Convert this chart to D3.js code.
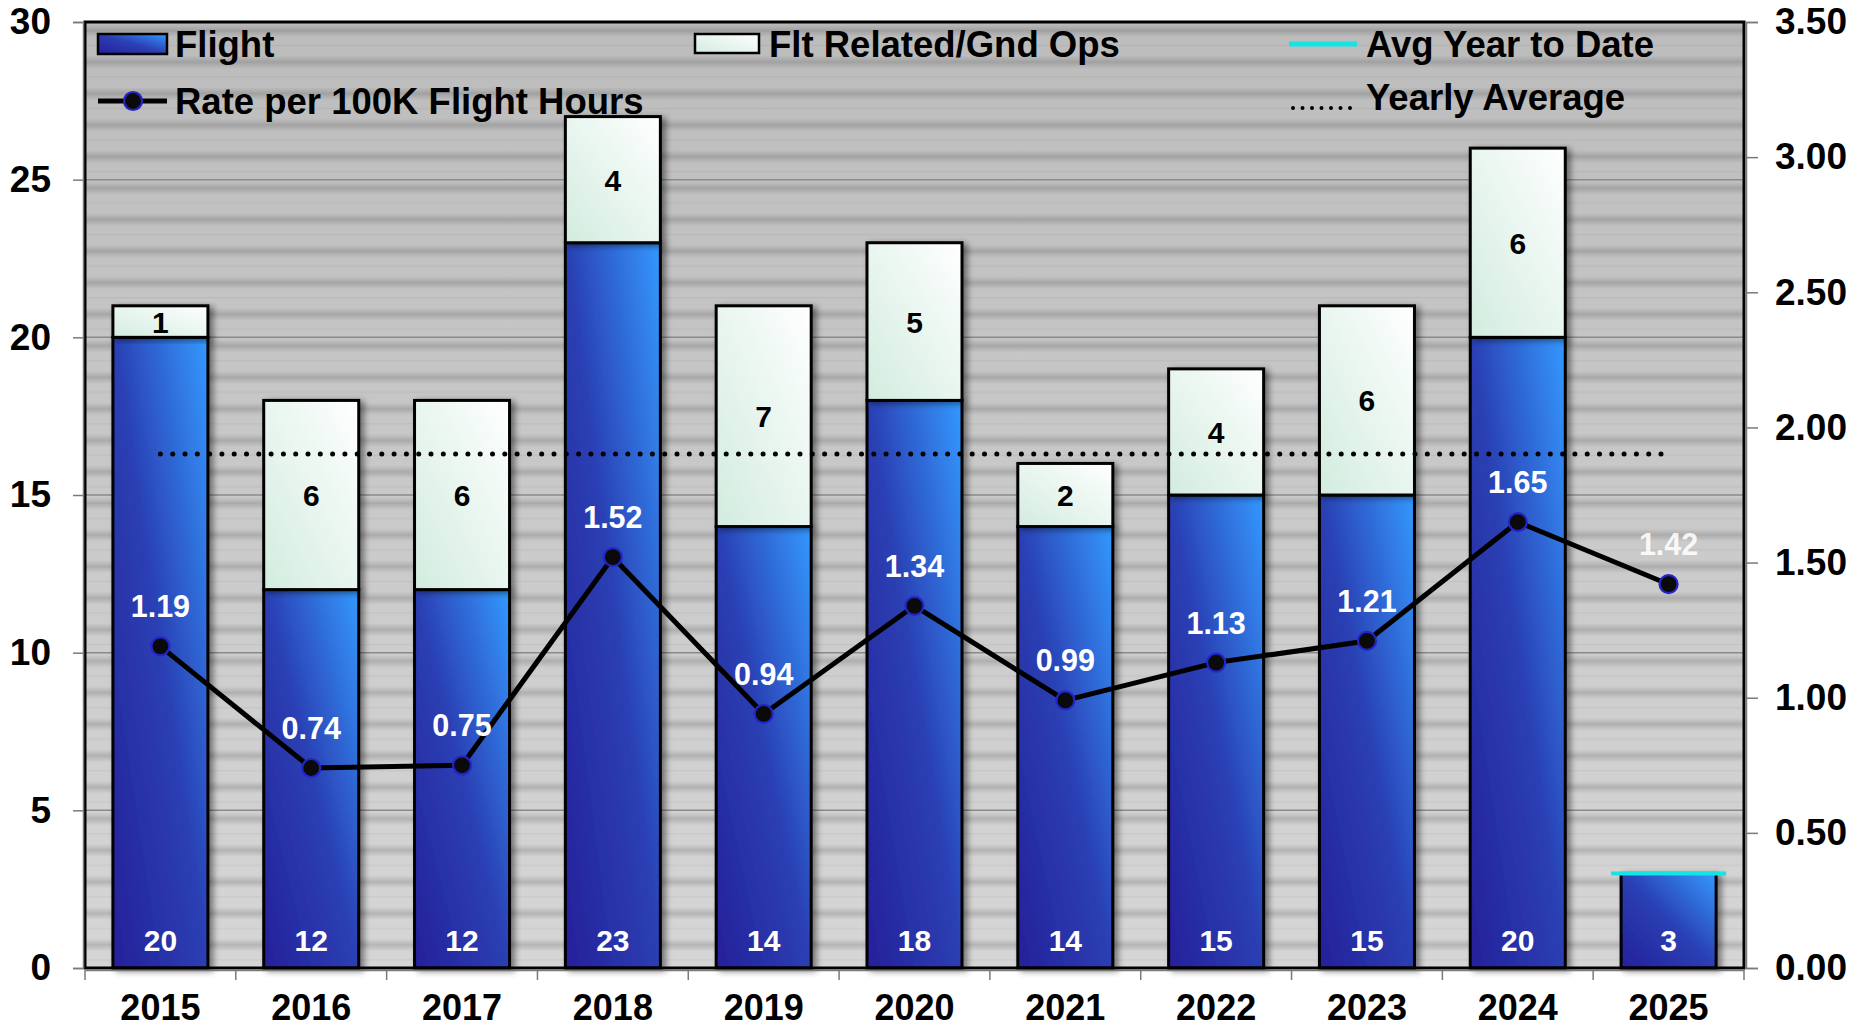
<!DOCTYPE html>
<html>
<head>
<meta charset="utf-8">
<script src="https://cdn.jsdelivr.net/npm/d3@7"></script>
<style>
  html, body { margin: 0; padding: 0; background: #ffffff; }
  svg { display: block; }
  text { font-family: "Liberation Sans", Arial, Helvetica, sans-serif; font-weight: bold; }
</style>
</head>
<body>
<svg id="chart" width="1854" height="1029"></svg>
<script>
// ---- data ----
const years = ["2015","2016","2017","2018","2019","2020","2021","2022","2023","2024","2025"];
const flight = [20, 12, 12, 23, 14, 18, 14, 15, 15, 20, 3];
const fltRelated = [1, 6, 6, 4, 7, 5, 2, 4, 6, 6, 0];
const rate = [1.19, 0.74, 0.75, 1.52, 0.94, 1.34, 0.99, 1.13, 1.21, 1.65, 1.42];
const yearlyAverage = 16.3;   // average of Flight mishaps 2015-2024
const avgYearToDate = 3;      // 2025 year to date
const leftTicks = [0, 5, 10, 15, 20, 25, 30];
const rightTicks = [0, 0.5, 1, 1.5, 2, 2.5, 3, 3.5];
const legendItems = ["Flight", "Flt Related/Gnd Ops", "Avg Year to Date", "Rate per 100K Flight Hours", "Yearly Average"];

// ---- layout ----
const X0 = 85, X1 = 1744, Y0 = 22, Y1 = 968;
const svg = d3.select("#chart");

const x = d3.scaleBand().domain(years).range([X0, X1]).paddingInner(0.37).paddingOuter(0.185);
const yL = d3.scaleLinear().domain([0, 30]).range([Y1, Y0]);
const yR = d3.scaleLinear().domain([0, 3.5]).range([Y1, Y0]);
const step = x.step(), bw = x.bandwidth();
const cx = d => x(d) + bw / 2;

// ---- defs ----
const defs = svg.append("defs");
const bgGrad = defs.append("linearGradient").attr("id", "bgGrad").attr("x1", 0).attr("y1", 0).attr("x2", 0).attr("y2", 1);
bgGrad.append("stop").attr("offset", 0).attr("stop-color", "#bcbcbc");
bgGrad.append("stop").attr("offset", 1).attr("stop-color", "#d6d6d6");

const bandGrad = defs.append("linearGradient").attr("id", "bandGrad").attr("x1", 0).attr("y1", 0).attr("x2", 0).attr("y2", 1);
bandGrad.append("stop").attr("offset", 0).attr("stop-color", "#000").attr("stop-opacity", 0);
bandGrad.append("stop").attr("offset", 0.5).attr("stop-color", "#000").attr("stop-opacity", 0.15);
bandGrad.append("stop").attr("offset", 1).attr("stop-color", "#000").attr("stop-opacity", 0);

const unit = yL(0) - yL(1);
const pat = defs.append("pattern").attr("id", "stripes").attr("patternUnits", "userSpaceOnUse")
  .attr("x", 0).attr("y", yL(30) + 2).attr("width", 20).attr("height", unit);
pat.append("rect").attr("x", 0).attr("y", 0).attr("width", 20).attr("height", 13).attr("fill", "url(#bandGrad)");
pat.append("rect").attr("x", 0).attr("y", 21).attr("width", 20).attr("height", 1).attr("fill", "#000").attr("fill-opacity", 0.06);

const blueGrad = defs.append("linearGradient").attr("id", "blueGrad").attr("x1", 0).attr("y1", 1).attr("x2", 1).attr("y2", 0);
blueGrad.append("stop").attr("offset", 0).attr("stop-color", "#25209a");
blueGrad.append("stop").attr("offset", 0.5).attr("stop-color", "#2b3fb3");
blueGrad.append("stop").attr("offset", 1).attr("stop-color", "#3399ff");

const greenGrad = defs.append("linearGradient").attr("id", "greenGrad").attr("x1", 0).attr("y1", 1).attr("x2", 1).attr("y2", 0);
greenGrad.append("stop").attr("offset", 0).attr("stop-color", "#d2ecdf");
greenGrad.append("stop").attr("offset", 1).attr("stop-color", "#ffffff");

const shadow = defs.append("filter").attr("id", "shadow").attr("x", "-20%").attr("y", "-10%").attr("width", "150%").attr("height", "130%");
shadow.append("feDropShadow").attr("dx", 4).attr("dy", 2).attr("stdDeviation", 3)
  .attr("flood-color", "#000").attr("flood-opacity", 0.45);

const glow = defs.append("filter").attr("id", "glow").attr("x", "-10%").attr("y", "-200%").attr("width", "120%").attr("height", "500%");
glow.append("feGaussianBlur").attr("stdDeviation", 1.2);

// ---- background ----
svg.append("rect").attr("x", X0).attr("y", Y0).attr("width", X1 - X0).attr("height", Y1 - Y0).attr("fill", "url(#bgGrad)");
svg.append("rect").attr("x", X0).attr("y", Y0).attr("width", X1 - X0).attr("height", Y1 - Y0).attr("fill", "url(#stripes)");

// major gridlines
svg.append("g").selectAll("line").data(leftTicks.filter(t => t > 0 && t < 30)).join("line")
  .attr("x1", X0).attr("x2", X1).attr("y1", d => yL(d)).attr("y2", d => yL(d))
  .attr("stroke", "#8a8a8a").attr("stroke-width", 1.5);

// ---- bars ----
const rows = years.map((y, i) => ({ year: y, f: flight[i], r: fltRelated[i], rate: rate[i] }));
const bars = svg.append("g");
bars.selectAll("rect.flight").data(rows).join("rect").attr("class", "flight")
  .attr("x", d => x(d.year)).attr("width", bw)
  .attr("y", d => yL(d.f)).attr("height", d => yL(0) - yL(d.f))
  .attr("fill", "url(#blueGrad)").attr("stroke", "#000").attr("stroke-width", 3)
  .attr("filter", "url(#shadow)");
bars.selectAll("rect.rel").data(rows.filter(d => d.r > 0)).join("rect").attr("class", "rel")
  .attr("x", d => x(d.year)).attr("width", bw)
  .attr("y", d => yL(d.f + d.r)).attr("height", d => yL(d.f) - yL(d.f + d.r))
  .attr("fill", "url(#greenGrad)").attr("stroke", "#000").attr("stroke-width", 3)
  .attr("filter", "url(#shadow)");

// yearly average dotted line (from first to last category centre)
svg.append("line")
  .attr("x1", cx(years[0])).attr("x2", cx(years[years.length - 1]))
  .attr("y1", yL(yearlyAverage)).attr("y2", yL(yearlyAverage))
  .attr("stroke", "#000").attr("stroke-width", 5).attr("stroke-linecap", "round")
  .attr("stroke-dasharray", "0 12.3");

// avg year to date cyan line on the last bar
const last = years[years.length - 1];
svg.append("line").attr("x1", x(last) - 10).attr("x2", x(last) + bw + 10)
  .attr("y1", yL(avgYearToDate)).attr("y2", yL(avgYearToDate))
  .attr("stroke", "#00ffff").attr("stroke-width", 7).attr("stroke-opacity", 0.6).attr("filter", "url(#glow)");
svg.append("line").attr("x1", x(last) - 10).attr("x2", x(last) + bw + 10)
  .attr("y1", yL(avgYearToDate)).attr("y2", yL(avgYearToDate))
  .attr("stroke", "#14e4e4").attr("stroke-width", 4);

// bar labels
svg.append("g").selectAll("text").data(rows).join("text")
  .attr("x", d => cx(d.year)).attr("y", yL(0) - 17)
  .attr("text-anchor", "middle").attr("font-size", 30).attr("fill", "#fff")
  .text(d => d.f);
svg.append("g").selectAll("text").data(rows.filter(d => d.r > 0)).join("text")
  .attr("x", d => cx(d.year)).attr("y", d => (yL(d.f) + yL(d.f + d.r)) / 2 + 11)
  .attr("text-anchor", "middle").attr("font-size", 30).attr("fill", "#000")
  .text(d => d.r);

// ---- rate line ----
const line = d3.line().x(d => cx(d.year)).y(d => yR(d.rate));
svg.append("path").datum(rows).attr("d", line).attr("fill", "none")
  .attr("stroke", "#000").attr("stroke-width", 5).attr("stroke-linejoin", "round");
svg.append("g").selectAll("circle").data(rows).join("circle")
  .attr("cx", d => cx(d.year)).attr("cy", d => yR(d.rate)).attr("r", 9)
  .attr("fill", "#0a0a0a").attr("stroke", "#2424c8").attr("stroke-width", 2.2);
svg.append("g").selectAll("text").data(rows).join("text")
  .attr("x", d => cx(d.year)).attr("y", d => yR(d.rate) - 29)
  .attr("text-anchor", "middle").attr("font-size", 30.5).attr("fill", "#fff")
  .attr("fill-opacity", (d, i) => i === rows.length - 1 ? 0.9 : 1)
  .text(d => d3.format(".2f")(d.rate));

// ---- frame ----
svg.append("rect").attr("x", X0).attr("y", Y0).attr("width", X1 - X0).attr("height", Y1 - Y0)
  .attr("fill", "none").attr("stroke", "#000").attr("stroke-width", 3);

// ---- axes ----
const gL = svg.append("g").attr("transform", `translate(${X0 - 2},0)`)
  .call(d3.axisLeft(yL).tickValues(leftTicks).tickSize(10).tickPadding(22).tickFormat(d3.format("d")));
const gR = svg.append("g").attr("transform", `translate(${X1 + 2},0)`)
  .call(d3.axisRight(yR).tickValues(rightTicks).tickSize(12).tickPadding(17).tickFormat(d3.format(".2f")));
[gL, gR].forEach(g => {
  g.select(".domain").attr("stroke", "#7a7a7a").attr("stroke-width", 1.5);
  g.selectAll(".tick line").attr("stroke", "#7a7a7a").attr("stroke-width", 1.5);
  g.selectAll(".tick text").attr("font-size", 37).attr("fill", "#000")
    .attr("font-family", "'Liberation Sans', Arial, sans-serif").attr("font-weight", "bold");
});

const gB = svg.append("g").attr("transform", `translate(0,${Y1 + 2})`)
  .call(d3.axisBottom(x).tickSize(0).tickPadding(0));
gB.select(".domain").attr("stroke", "#7a7a7a").attr("stroke-width", 1.5);
gB.selectAll(".tick text").attr("font-size", 36).attr("fill", "#000").attr("y", 50).attr("dy", 0)
  .attr("font-family", "'Liberation Sans', Arial, sans-serif").attr("font-weight", "bold");
// category boundary ticks
const bounds = years.map(d => x(d) - (step - bw) / 2).concat([x(last) + bw + (step - bw) / 2]);
gB.append("g").selectAll("line").data(bounds).join("line")
  .attr("x1", d => d).attr("x2", d => d).attr("y1", 0).attr("y2", 10)
  .attr("stroke", "#7a7a7a").attr("stroke-width", 1.5);

// ---- legend ----
const lg = svg.append("g").attr("font-size", 36.5).attr("fill", "#000");
lg.append("rect").attr("x", 98).attr("y", 34).attr("width", 69).attr("height", 20)
  .attr("fill", "url(#blueGrad)").attr("stroke", "#000").attr("stroke-width", 2.5);
lg.append("text").attr("x", 175).attr("y", 57).text(legendItems[0]);

lg.append("rect").attr("x", 695).attr("y", 34).attr("width", 64).attr("height", 19)
  .attr("fill", "url(#greenGrad)").attr("stroke", "#000").attr("stroke-width", 2.5);
lg.append("text").attr("x", 769).attr("y", 57).text(legendItems[1]);

lg.append("line").attr("x1", 1289).attr("x2", 1357).attr("y1", 44).attr("y2", 44)
  .attr("stroke", "#14e4e4").attr("stroke-width", 5);
lg.append("text").attr("x", 1366).attr("y", 57).text(legendItems[2]);

lg.append("line").attr("x1", 98).attr("x2", 167).attr("y1", 101).attr("y2", 101)
  .attr("stroke", "#000").attr("stroke-width", 5);
lg.append("circle").attr("cx", 133).attr("cy", 101).attr("r", 9)
  .attr("fill", "#0a0a0a").attr("stroke", "#2424c8").attr("stroke-width", 2.2);
lg.append("text").attr("x", 175).attr("y", 114).text(legendItems[3]);

lg.append("line").attr("x1", 1293).attr("x2", 1357).attr("y1", 108).attr("y2", 108)
  .attr("stroke", "#000").attr("stroke-width", 4).attr("stroke-linecap", "round")
  .attr("stroke-dasharray", "0 9.5");
lg.append("text").attr("x", 1366).attr("y", 110).text(legendItems[4]);
</script>
</body>
</html>
